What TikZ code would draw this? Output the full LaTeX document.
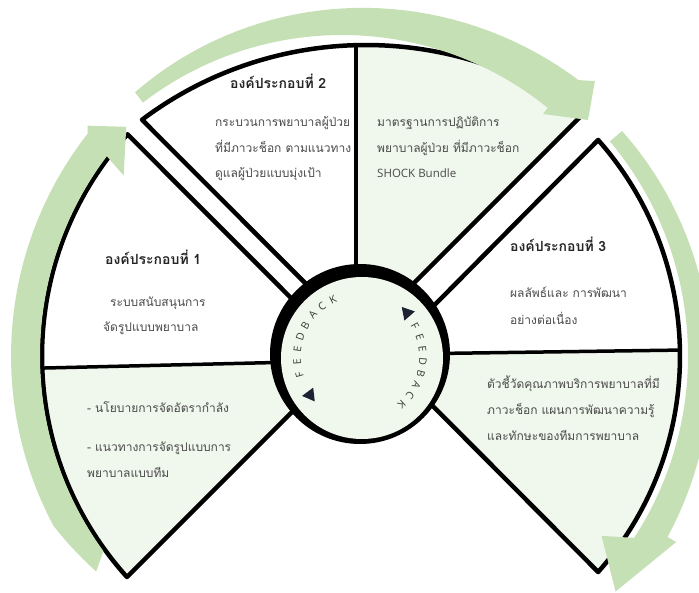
\documentclass[tikz,border=0pt]{standalone}
\usepackage{fontspec}
\newfontfamily\thai[Script=Thai]{Loma}
\setsansfont{Open Sans}
\usetikzlibrary{calc}
\definecolor{arrowgreen}{HTML}{C5E0B4}
\definecolor{palegreen}{HTML}{F0F7EC}
\definecolor{navy}{HTML}{1B2233}
\definecolor{txt}{HTML}{4A4A4A}
\definecolor{headc}{HTML}{262626}
\definecolor{fbtext}{HTML}{34402F}
\begin{document}
\begin{tikzpicture}[x=1pt,y=1pt,
  pairline/.style={line width=4.5pt, line join=round},
  divline/.style={line width=3.5pt},
  bodytext/.style={anchor=base west, inner sep=0pt, font=\thai\fontsize{12}{14}\selectfont, text=txt},
  headtext/.style={anchor=base west, inner sep=0pt, font=\thai\bfseries\fontsize{14}{16}\selectfont, text=headc},
  fb/.style={font=\sffamily\fontsize{10.5}{12}\selectfont, text=fbtext, inner sep=0pt},
  arrowfill/.style={fill=arrowgreen, draw=none}
]
\useasboundingbox (0,0) rectangle (699,-593);
\fill[white] (0,0) rectangle (699,-593);

% ---------- pair 1 (left) ----------
\def\pairA{(348.5,-355.5) -- ($(372,-356)+(137.8:330)$) arc[start angle=137.8, end angle=222.05, radius=330] -- cycle}
\fill[white] \pairA;
\begin{scope}
  \clip \pairA;
  \fill[palegreen] (20,-368.6) -- (360,-360.5) -- (360,-600) -- (20,-600) -- cycle;
  \draw[divline] (20,-368.6) -- (360,-360.5);
\end{scope}
\draw[pairline] \pairA;

% ---------- pair 2 (top) ----------
\def\pairB{(359.5,-337.5) -- ($(366,-418)+(54.5:373)$) arc[start angle=54.5, end angle=126.9, radius=373] -- cycle}
\fill[white] \pairB;
\begin{scope}
  \clip \pairB;
  \fill[palegreen] (356,0) rectangle (700,-400);
  \draw[divline] (356,0) -- (356,-400);
\end{scope}
\draw[pairline] \pairB;

% ---------- pair 3 (right) ----------
\def\pairC{(383.5,-356.5) -- ($(354,-356)+(-41.5:326)$) arc[start angle=-41.5, end angle=41.5, radius=326] -- cycle}
\fill[white] \pairC;
\begin{scope}
  \clip \pairC;
  \fill[palegreen] (380,-354.3) -- (700,-349.8) -- (700,-600) -- (380,-600) -- cycle;
  \draw[divline] (380,-354.3) -- (700,-349.8);
\end{scope}
\draw[pairline] \pairC;

% ---------- centre circle ----------
\fill[black] (360,-354) circle (90);
\fill[palegreen] (362,-358) circle (81);
\foreach \ch [count=\i from 0] in {F,E,E,D,B,A,C,K}{
  \node[fb, rotate={196-11.4*\i-90}] (fbl\i) at ($(361,-357)+({196-11.4*\i}:64)$) {\ch};
}
\foreach \ch [count=\i from 0] in {F,E,E,D,B,A,C,K}{
  \node[fb, rotate={29-11*\i-90}] (fbr\i) at ($(359,-357)+({29-11*\i}:64)$) {\ch};
}
\coordinate (tl) at (310,-395);
\coordinate (tr) at (407,-313);
\fill[navy] ($(tl)+(306.5:8)$) -- ($(tl)+(426.5:8)$) -- ($(tl)+(186.5:8)$) -- cycle;
\fill[navy] ($(tr)+(131:8)$) -- ($(tr)+(251:8)$) -- ($(tr)+(11:8)$) -- cycle;

% ---------- texts ----------
\node[headtext] (h2) at (230,-89) {องค์ประกอบที่ 2};
\node[bodytext] (l2a) at (215,-126.5) {กระบวนการพยาบาลผู้ป่วย};
\node[bodytext] (l2b) at (215,-152.5) {ที่มีภาวะช็อก ตามแนวทาง};
\node[bodytext] (l2c) at (215,-177.5) {ดูแลผู้ป่วยแบบมุ่งเป้า};
\node[bodytext] (r2a) at (377,-126.5) {มาตรฐานการปฏิบัติการ};
\node[bodytext] (r2b) at (377,-152.5) {พยาบาลผู้ป่วย ที่มีภาวะช็อก};
\node[bodytext, font=\sffamily\fontsize{11.5}{13}\selectfont] (r2c) at (377,-177.5) {SHOCK Bundle};

\node[headtext] (h1) at (105,-265) {องค์ประกอบที่ 1};
\node[bodytext] (l1a) at (110,-306.5) {ระบบสนับสนุนการ};
\node[bodytext] (l1b) at (103,-331.5) {จัดรูปแบบพยาบาล};
\node[bodytext] (d1a) at (87,-412.5) {- นโยบายการจัดอัตรากำลัง};
\node[bodytext] (d1b) at (87,-451.5) {- แนวทางการจัดรูปแบบการ};
\node[bodytext] (d1c) at (87,-477.5) {พยาบาลแบบทีม};

\node[headtext] (h3) at (510,-252) {องค์ประกอบที่ 3};
\node[bodytext] (l3a) at (510,-297.5) {ผลลัพธ์และ การพัฒนา};
\node[bodytext] (l3b) at (510,-324.5) {อย่างต่อเนื่อง};
\node[bodytext] (d3a) at (487,-388.5) {ตัวชี้วัดคุณภาพบริการพยาบาลที่มี};
\node[bodytext] (d3b) at (487,-414.5) {ภาวะช็อก แผนการพัฒนาความรู้};
\node[bodytext] (d3c) at (487,-440.5) {และทักษะของทีมการพยาบาล};

% ---------- green arrows ----------
% left arrow
\fill[arrowfill]
  plot[domain=218:208, samples=8]
  ({372+(350+11*(218-\x)/10)*cos(\x)}, {-356+(350+11*(218-\x)/10)*sin(\x)})
  -- plot[domain=208:142, samples=30] ({372+361*cos(\x)}, {-356+361*sin(\x)})
  -- ($(372,-356)+(141:366)$) -- ($(372,-356)+(137:336)$) -- ($(372,-356)+(144:307)$)
  -- ($(372,-356)+(143:332)$) arc[start angle=143, end angle=216, radius=332] -- cycle;
% top arrow
\fill[arrowfill] plot[domain=127.5:50, samples=40]
  ({342+(340+28*(127.5-\x)/77.5)*cos(\x)}, {-362+(340+28*(127.5-\x)/77.5)*sin(\x)})
  -- ($(342,-362)+(48:378)$) -- (588,-120) -- (543,-114)
  -- ($(342,-362)+(51:327)$) arc[start angle=51, end angle=127.5, radius=327] -- cycle;
% right arrow
\fill[arrowfill] plot[domain=40:-30, samples=40]
  ({354+(350+12*(40-\x)/70)*cos(\x)}, {-356+(350+12*(40-\x)/70)*sin(\x)})
  -- ($(354,-356)+(-30:372)$) -- ($(354,-356)+(-42:352)$) -- ($(354,-356)+(-36:306)$)
  -- ($(354,-356)+(-33:334)$) arc[start angle=-33, end angle=40, radius=334] -- cycle;
\end{tikzpicture}
\end{document}
